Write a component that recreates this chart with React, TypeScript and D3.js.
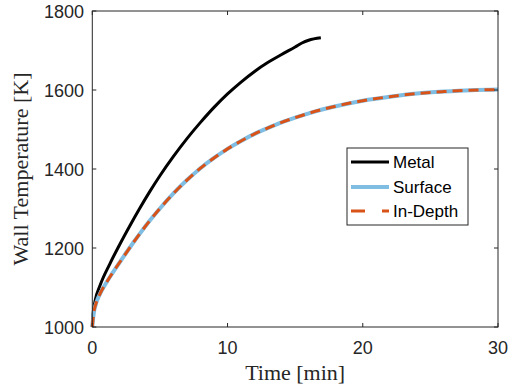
import React from "react";
import * as d3 from "d3";

const metalTime = [0, 0.05, 0.2, 0.57, 1.3, 2, 2.79, 3.5, 4.27, 5, 6, 7, 8, 9, 10, 11, 12, 13, 14, 15, 15.5, 16, 16.9];
const metalTemp = [1000, 1030, 1065, 1105, 1160, 1207, 1257, 1300, 1344, 1383, 1432, 1477, 1518, 1556, 1590, 1620, 1647, 1670, 1690, 1709, 1719, 1726, 1732];

const surfTime = [0, 0.03, 0.13, 0.3, 0.57, 1, 1.5, 2.29, 3, 3.53, 4.27, 5, 6, 7, 8, 9, 10, 11, 12, 13, 14, 15, 16, 18, 20, 22, 24, 26, 28, 30];
const surfTemp = [1000, 1012, 1040, 1062, 1084, 1110, 1137, 1177, 1212, 1237, 1270, 1300, 1338, 1372, 1402, 1428, 1451, 1471, 1489, 1504, 1518, 1530, 1541, 1559, 1573, 1583, 1591, 1596, 1599.5, 1601];
const depthTemp = [1000, 1012, 1040, 1062, 1084, 1110, 1137, 1177, 1212, 1237, 1270, 1300, 1338, 1372, 1402, 1428, 1451, 1471, 1489, 1504, 1518, 1530, 1541, 1559, 1573, 1583, 1591, 1596, 1599.5, 1601];

const xTicks = [0, 10, 20, 30];
const yTicks = [1000, 1200, 1400, 1600, 1800];
const legendLabels = ["Metal", "Surface", "In-Depth"];

const W = 511, H = 391;
const L = 92.3, R = 498, T = 11, B = 327;
const axisColor = "#262626";
const tickFont = "'Liberation Sans', Arial, Helvetica, sans-serif";
const serif = "'Liberation Serif', 'Times New Roman', serif";

export default function App() {
  const x = d3.scaleLinear().domain([0, 30]).range([L, R]);
  const y = d3.scaleLinear().domain([1000, 1800]).range([B, T]);
  const line = d3.line<[number, number]>().x(d => x(d[0])).y(d => y(d[1])).curve(d3.curveMonotoneX);
  const metal = line(metalTime.map((t, i) => [t, metalTemp[i]]) as [number, number][]) || "";
  const surf = line(surfTime.map((t, i) => [t, surfTemp[i]]) as [number, number][]) || "";
  const depth = line(surfTime.map((t, i) => [t, depthTemp[i]]) as [number, number][]) || "";
  const tl = 4;
  const styles = [
    { stroke: "#000000", width: 3, dash: undefined as string | undefined },
    { stroke: "#80BDE3", width: 4, dash: undefined as string | undefined },
    { stroke: "#D95319", width: 3, dash: "10 6" },
  ];
  const legX = 347, legY = 148, legW = 121, legH = 77;
  const rowY = [162, 187, 211];
  return (
    <svg width={W} height={H} style={{ position: "absolute", left: 0, top: 0, background: "#fff" }}>
      <rect x={0} y={0} width={W} height={H} fill="#fff" />
      <path d={metal} fill="none" stroke={styles[0].stroke} strokeWidth={styles[0].width} />
      <path d={surf} fill="none" stroke={styles[1].stroke} strokeWidth={styles[1].width} />
      <path d={depth} fill="none" stroke={styles[2].stroke} strokeWidth={styles[2].width} strokeDasharray={styles[2].dash} />
      <rect x={L} y={T} width={R - L} height={B - T} fill="none" stroke={axisColor} strokeWidth={1} />
      {xTicks.map(v => (
        <g key={"x" + v}>
          <line x1={x(v)} x2={x(v)} y1={B} y2={B - tl} stroke={axisColor} />
          <line x1={x(v)} x2={x(v)} y1={T} y2={T + tl} stroke={axisColor} />
          <text x={x(v)} y={354} textAnchor="middle" fontFamily={tickFont} fontSize={18} fill={axisColor}>{v}</text>
        </g>
      ))}
      {yTicks.map(v => (
        <g key={"y" + v}>
          <line x1={L} x2={L + tl} y1={y(v)} y2={y(v)} stroke={axisColor} />
          <line x1={R} x2={R - tl} y1={y(v)} y2={y(v)} stroke={axisColor} />
          <text x={84} y={y(v) + 6.5} textAnchor="end" fontFamily={tickFont} fontSize={18} fill={axisColor}>{v}</text>
        </g>
      ))}
      <text x={(L + R) / 2} y={380} textAnchor="middle" fontFamily={serif} fontSize={22} fill={axisColor}>Time [min]</text>
      <text transform={`translate(28,${(T + B) / 2}) rotate(-90)`} textAnchor="middle" fontFamily={serif} fontSize={22} fill={axisColor}>Wall Temperature [K]</text>
      <rect x={legX} y={legY} width={legW} height={legH} fill="#fff" stroke={axisColor} strokeWidth={1} />
      {legendLabels.map((lab, i) => (
        <g key={lab}>
          <line x1={351} x2={389} y1={rowY[i]} y2={rowY[i]} stroke={styles[i].stroke} strokeWidth={styles[i].width} strokeDasharray={i === 2 ? "14 17" : undefined} />
          <text x={393} y={rowY[i] + 6} fontFamily={tickFont} fontSize={17} fill="#000">{lab}</text>
        </g>
      ))}
    </svg>
  );
}
